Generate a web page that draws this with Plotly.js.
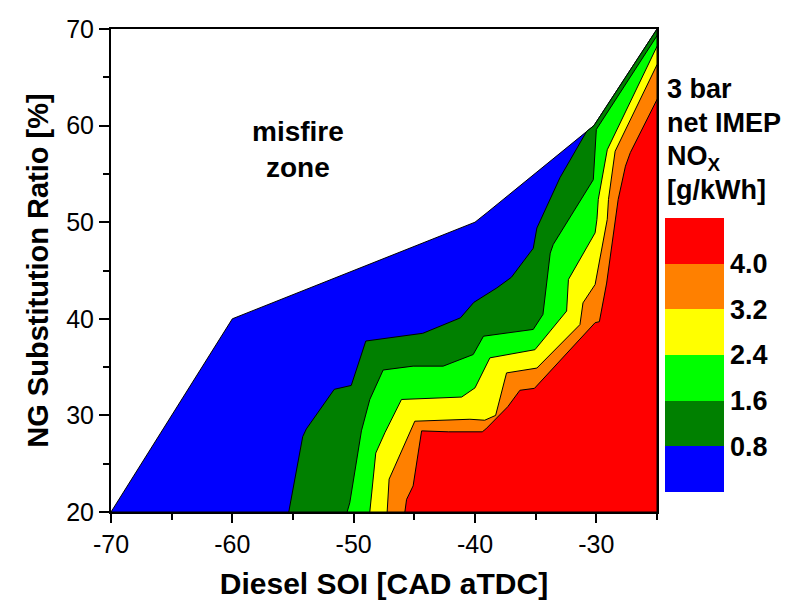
<!DOCTYPE html>
<html>
<head>
<meta charset="utf-8">
<script src="https://cdn.plot.ly/plotly-3.0.1.min.js"></script>
<style>html,body{margin:0;padding:0;background:#fff;}#chart{width:805px;height:615px;}</style>
</head>
<body>
<div id="chart"></div>
<script>
// Outer boundary of the measured region (upper-left edge), Diesel SOI vs NG ratio
const hullX = [-70, -60, -40, -39, -30.2, -25];
const hullY = [20, 40, 50, 51, 60, 70];

// Contour boundaries (NOx levels), from y=20 upward
const levels = [0.8, 1.6, 2.4, 3.2, 4.0];
const c08X = [-55.35, -54.2, -53.9, -52.8, -51.6, -50.2, -49.0, -44.3, -42.9, -41.2, -40.1, -38.2, -37.0, -35.2, -34.9, -33.8, -33.0, -30.8];
const c08Y = [20, 27.8, 28.6, 30.6, 32.7, 33.1, 37.7, 38.5, 39.2, 40.1, 41.7, 43.2, 44.3, 47.3, 49.4, 52.4, 54.6, 59.4];
const c16X = [-50.54, -50.32, -49.36, -48.67, -47.57, -45.1, -42.62, -40.15, -39.3, -35.2, -34.4, -33.8, -33.55, -30.25, -30.0, -25];
const c16Y = [20, 20.95, 28.4, 31.65, 34.7, 35.1, 35.1, 36.3, 38.2, 38.9, 40.45, 46.8, 47.7, 54.4, 59.6, 69.3];
const c24X = [-48.67, -48.18, -47.43, -46.06, -41.1, -40.0, -38.77, -35.06, -32.45, -32.3, -30.1, -29.95, -29.84, -29.1, -25];
const c24Y = [20, 26.1, 28.2, 31.65, 31.9, 32.85, 35.96, 36.8, 40.8, 44.07, 48.9, 50.3, 52.35, 57.5, 68.2];
const c32X = [-47.24, -47.08, -46.6, -44.96, -40.42, -39.2, -38.3, -37.4, -34.9, -31.35, -31.1, -30.1, -29.1, -29.0, -28.45, -25];
const c32Y = [20, 23.4, 24.75, 29.4, 29.6, 29.5, 30.0, 34.4, 34.9, 39.4, 41.65, 43.55, 50.3, 52.35, 57.35, 66.3];
const c40X = [-45.78, -45.64, -45.1, -44.4, -42.2, -39.4, -39.1, -37.3, -36.3, -35.1, -30.1, -29.75, -29.15, -28.2, -27.6, -27.2, -25];
const c40Y = [20, 21.3, 22.7, 28.4, 28.3, 28.3, 28.6, 30.9, 32.6, 32.8, 39.6, 39.7, 43.7, 52.35, 55.8, 57.2, 62.7];

const bandColors = ['#0000FF', '#008000', '#00FF00', '#FFFF00', '#FF8000', '#FF0000'];
const cbTicks = ['0.8', '1.6', '2.4', '3.2', '4.0'];
const xTickVals = [-70, -60, -50, -40, -30];
const xTickText = ['-70', '-60', '-50', '-40', '-30'];
const yTickVals = [20, 30, 40, 50, 60, 70];
const yTickText = ['20', '30', '40', '50', '60', '70'];
const cbTitleLines = ['3 bar', 'net IMEP', 'NO<sub>X</sub>', '[g/kWh]'];

const xRange = [-70, -25];
const yRange = [20, 70];

const traces = [];
// full region (lowest band)
const hx = hullX.concat([xRange[1], xRange[0]]);
const hy = hullY.concat([yRange[0], yRange[0]]);
traces.push({type: 'scatter', mode: 'lines', x: hx, y: hy, fill: 'toself', fillcolor: bandColors[0],
  line: {color: '#000', width: 1}, hoverinfo: 'skip', showlegend: false});

const contours = [[c08X, c08Y], [c16X, c16Y], [c24X, c24Y], [c32X, c32Y], [c40X, c40Y]];
contours.forEach((c, i) => {
  const xs = c[0].slice(), ys = c[1].slice();
  const lastX = xs[xs.length - 1];
  for (let k = 0; k < hullX.length; k++) {
    if (hullX[k] > lastX) { xs.push(hullX[k]); ys.push(hullY[k]); }
  }
  xs.push(xRange[1]); ys.push(yRange[0]);
  xs.push(c[0][0]); ys.push(c[1][0]);
  traces.push({type: 'scatter', mode: 'lines', x: xs, y: ys, fill: 'toself', fillcolor: bandColors[i + 1],
    line: {color: '#000', width: 1}, hoverinfo: 'skip', showlegend: false});
});

// colour bar holder
const cs = [];
bandColors.forEach((col, i) => { cs.push([i / 6, col]); cs.push([(i + 1) / 6, col]); });
const F = 'Arial, Liberation Sans, sans-serif';
traces.push({type: 'scatter', mode: 'markers', x: [xRange[0]], y: [yRange[0]], hoverinfo: 'skip', showlegend: false,
  marker: {size: 1, opacity: 0, color: [0], cmin: 0, cmax: 4.8, colorscale: cs, showscale: true,
    colorbar: {thickness: 59, thicknessmode: 'pixels', len: 274, lenmode: 'pixels',
      x: 1.0147, xanchor: 'left', xpad: 0, y: 0.325, yanchor: 'middle', ypad: 0,
      outlinewidth: 0, ticks: '', tickvals: levels, ticktext: cbTicks,
      tickfont: {family: F, size: 27, color: '#000', weight: 'bold'}}}});

const annotations = [
  {xref: 'x', yref: 'y', x: -54.6, y: 57.5, text: 'misfire<br>zone', showarrow: false,
    font: {family: F, size: 28, color: '#000', weight: 'bold'}, align: 'center'}
];
const titleTops = [0.9116, 0.8416, 0.7716, 0.7016];
cbTitleLines.forEach((t, i) => {
  annotations.push({xref: 'paper', yref: 'paper', x: 1.0147, y: titleTops[i], xanchor: 'left', yanchor: 'top',
    align: 'left', text: t, showarrow: false, font: {family: F, size: 27, color: '#000', weight: 'bold'}});
});

const layout = {
  width: 805, height: 615,
  margin: {l: 111, r: 148, t: 29, b: 103},
  paper_bgcolor: '#fff', plot_bgcolor: '#fff',
  showlegend: false,
  xaxis: {range: xRange, tickmode: 'array', tickvals: xTickVals, ticktext: xTickText,
    ticks: 'outside', ticklen: 9, tickwidth: 2, tickcolor: '#000',
    minor: {dtick: 5, tick0: -70, ticks: 'outside', ticklen: 6, tickwidth: 2, tickcolor: '#000'},
    showline: true, linewidth: 2, linecolor: '#000', mirror: true, showgrid: false, zeroline: false,
    tickfont: {family: F, size: 25, color: '#000'},
    title: {text: 'Diesel SOI [CAD aTDC]', font: {family: F, size: 30, color: '#000', weight: 'bold'}, standoff: 16}},
  yaxis: {range: yRange, tickmode: 'array', tickvals: yTickVals, ticktext: yTickText,
    ticks: 'outside', ticklen: 10, tickwidth: 2, tickcolor: '#000',
    minor: {dtick: 5, tick0: 20, ticks: 'outside', ticklen: 6, tickwidth: 2, tickcolor: '#000'},
    showline: true, linewidth: 2, linecolor: '#000', mirror: true, showgrid: false, zeroline: false,
    tickfont: {family: F, size: 25, color: '#000'},
    title: {text: 'NG Substitution Ratio [%]', font: {family: F, size: 29, color: '#000', weight: 'bold'}, standoff: 9}},
  annotations: annotations
};

Plotly.newPlot('chart', traces, layout, {displayModeBar: false, staticPlot: true});
</script>
</body>
</html>
